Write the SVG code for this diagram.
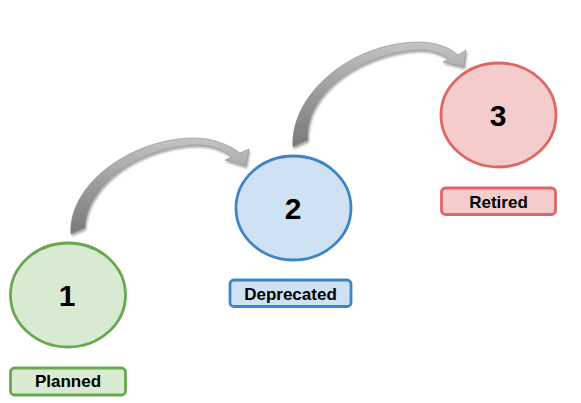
<svg xmlns="http://www.w3.org/2000/svg" width="581" height="403" viewBox="0 0 581 403">
  <defs>
    <linearGradient id="arrowGrad" x1="0" y1="0" x2="0" y2="1">
      <stop offset="0" stop-color="#c4c4c4"/>
      <stop offset="0.5" stop-color="#9a9a9a"/>
      <stop offset="1" stop-color="#7a7a7a"/>
    </linearGradient>
    <filter id="shadow" x="-10%" y="-10%" width="130%" height="130%">
      <feGaussianBlur in="SourceAlpha" stdDeviation="1.2"/>
      <feOffset dx="1" dy="1.5" result="b"/>
      <feComponentTransfer><feFuncA type="linear" slope="0.35"/></feComponentTransfer>
      <feMerge><feMergeNode/><feMergeNode in="SourceGraphic"/></feMerge>
    </filter>
  </defs>
  <style>
    .num { font-family: "Liberation Sans", Arial, sans-serif; font-weight: bold; font-size: 30px; fill: #000; text-anchor: middle; }
    .lbl { font-family: "Liberation Sans", Arial, sans-serif; font-weight: bold; font-size: 17px; fill: #000; text-anchor: middle; }
    .arrow { fill: url(#arrowGrad); stroke: #8a8a8a; stroke-width: 0.6; filter: url(#shadow); }
    .green { fill: #d9ead3; stroke: #6aa84f; stroke-width: 2.8; }
    .blue { fill: #cfe2f3; stroke: #3d85c6; stroke-width: 2.8; }
    .red { fill: #f4cccc; stroke: #e06666; stroke-width: 2.8; }
  </style>
  <rect width="581" height="403" fill="#ffffff"/>

  <g id="connectors">
    <path class="arrow" d="M 71,234 C 68,185 130,139 193,138 C 212,138 228,144 240,153 L 249,149 L 246,166 L 225,160 L 232,157 C 222,149 210,145 197,145 C 145,146 88,180 85,228 Z"/>
    <path class="arrow" d="M 293,147 C 290,95 350,43 418,42 C 435,42 449,47 458,55 L 466,50 L 464,67 L 443,62 L 449,59 C 440,53 430,50 420,50 C 365,52 305,90 308,140 Z"/>
  </g>

  <g id="node-1">
    <ellipse class="green" cx="68" cy="295" rx="57.5" ry="52"/>
    <text class="num" x="67" y="306">1</text>
  </g>
  <g id="label-planned">
    <rect class="green" x="10.5" y="368" width="115" height="27" rx="4"/>
    <text class="lbl" x="68" y="387">Planned</text>
  </g>

  <g id="node-2">
    <ellipse class="blue" cx="293.5" cy="208" rx="57.5" ry="52"/>
    <text class="num" x="293" y="219">2</text>
  </g>
  <g id="label-deprecated">
    <rect class="blue" x="230" y="280" width="121" height="26.5" rx="4"/>
    <text class="lbl" x="290.5" y="299.5">Deprecated</text>
  </g>

  <g id="node-3">
    <ellipse class="red" cx="498.5" cy="115" rx="57.5" ry="52"/>
    <text class="num" x="498" y="126">3</text>
  </g>
  <g id="label-retired">
    <rect class="red" x="441.5" y="188" width="114" height="26.5" rx="4"/>
    <text class="lbl" x="498.5" y="207.5">Retired</text>
  </g>
</svg>
